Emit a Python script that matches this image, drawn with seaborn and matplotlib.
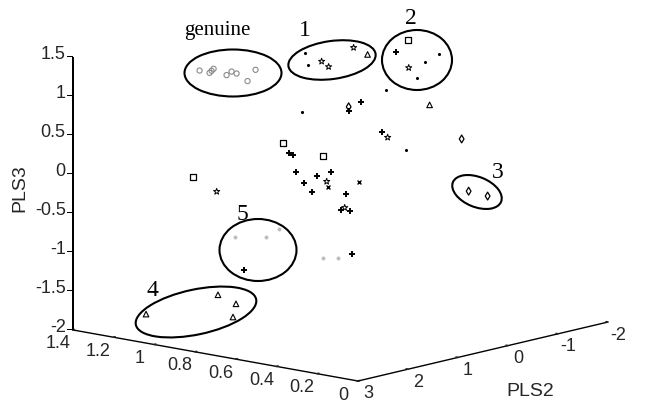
import numpy as np
import pandas as pd
import matplotlib
matplotlib.use("Agg")
import matplotlib.pyplot as plt
import seaborn as sns
from mpl_toolkits.mplot3d import proj3d
from matplotlib.patches import Ellipse, Rectangle

# ---------------- data (PLS1, PLS2, PLS3) ----------------
genuine_pls1 = [0.9, 0.9, 0.9, 0.9, 0.9, 0.9, 0.9, 0.9, 0.9]
genuine_pls2 = [2.50, 2.30, 2.26, 2.22, 1.96, 1.86, 1.76, 1.54, 1.38]
genuine_pls3 = [1.48, 1.42, 1.44, 1.46, 1.34, 1.37, 1.33, 1.20, 1.32]

dot_pls1 = [1.0, 1.0, 0.7, 0.7, 0.7, 0.7, 0.6, 0.6]
dot_pls2 = [-0.01, -0.07, -1.47, -1.19, -1.03, -0.41, 1.68, -0.40]
dot_pls3 = [1.28, 1.11, 1.18, 1.13, 0.94, 0.89, 0.96, 0.17]

star_pls1 = [1.0, 1.0, 1.0, 0.7, 0.6, 0.6, 0.6, 1.0]
star_pls2 = [-0.35, -0.49, -0.99, -0.87, -0.04, 1.18, 0.82, 1.75]
star_pls3 = [1.12, 1.03, 1.20, 1.10, 0.38, 0.00, -0.39, -0.23]

square_pls1 = [0.7, 0.6, 0.6, 1.0]
square_pls2 = [-0.85, 2.06, 1.26, 2.23]
square_pls3 = [1.46, 0.62, 0.34, 0.03]

plus_pls1 = [0.7, 0.6, 0.6, 0.6, 0.6, 0.6, 0.6, 0.6, 0.6, 0.6, 0.6, 0.6, 0.6, 0.6, 0.8, 0.6]
plus_pls2 = [-0.61, 0.74, 0.50, 0.08, 1.94, 1.86, 1.80, 1.38, 1.10, 1.64, 1.48, 0.80, 0.90, 0.72, 2.02, 0.68]
plus_pls3 = [1.34, 0.84, 0.91, 0.47, 0.48, 0.44, 0.22, 0.10, 0.11, 0.05, -0.09, -0.22, -0.41, -0.45, -1.10, -1.00]

diamond_pls1 = [0.6, 0.2, 0.2, 0.2]
diamond_pls2 = [0.74, 0.11, -0.03, -0.41]
diamond_pls3 = [0.89, 0.57, -0.12, -0.24]

triangle_pls1 = [1.0, 0.6, 1.05, 1.05, 1.05, 1.05]
triangle_pls2 = [-1.27, -0.88, 2.96, 1.52, 1.16, 1.22]
triangle_pls3 = [1.07, 0.67, -1.64, -1.61, -1.78, -1.94]

cross_pls1 = [0.6, 0.6]
cross_pls2 = [0.54, 1.16]
cross_pls3 = [-0.10, -0.07]

faint_pls1 = [0.8, 0.8, 0.8, 0.6, 0.6]
faint_pls2 = [2.20, 1.58, 1.32, 1.26, 0.96]
faint_pls3 = [-0.65, -0.74, -0.68, -0.97, -1.01]

x_ticks = [0, 0.2, 0.4, 0.6, 0.8, 1.0, 1.2, 1.4]
x_ticklabels = ["0", "0.2", "0.4", "0.6", "0.8", "1", "1.2", "1.4"]
y_ticks = [-2, -1, 0, 1, 2, 3]
y_ticklabels = ["-2", "-1", "0", "1", "2", "3"]
z_ticks = [-2, -1.5, -1, -0.5, 0, 0.5, 1, 1.5]
z_ticklabels = ["-2", "-1.5", "-1", "-0.5", "0", "0.5", "1", "1.5"]

y_label = "PLS2"
z_label = "PLS3"
annotations = ["genuine", "1", "2", "3", "4", "5"]

# --------------- build a tidy table ---------------
parts = []
for name, a, b, c in [
    ("genuine", genuine_pls1, genuine_pls2, genuine_pls3),
    ("dot", dot_pls1, dot_pls2, dot_pls3),
    ("star", star_pls1, star_pls2, star_pls3),
    ("square", square_pls1, square_pls2, square_pls3),
    ("plus", plus_pls1, plus_pls2, plus_pls3),
    ("diamond", diamond_pls1, diamond_pls2, diamond_pls3),
    ("triangle", triangle_pls1, triangle_pls2, triangle_pls3),
    ("cross", cross_pls1, cross_pls2, cross_pls3),
    ("faint", faint_pls1, faint_pls2, faint_pls3),
]:
    parts.append(pd.DataFrame({"group": name, "PLS1": a, "PLS2": b, "PLS3": c}))
df = pd.concat(parts, ignore_index=True)

styles = {
    "genuine": dict(marker="o", s=14, facecolors="none", edgecolors="#8a8a8a", linewidths=0.8),
    "dot": dict(marker="o", s=5, c="black", linewidths=0),
    "star": dict(marker="*", s=22, facecolors="none", edgecolors="black", linewidths=0.7),
    "square": dict(marker="s", s=18, facecolors="none", edgecolors="black", linewidths=0.9),
    "plus": dict(marker="+", s=24, c="black", linewidths=1.4),
    "diamond": dict(marker="d", s=16, facecolors="none", edgecolors="black", linewidths=0.9),
    "triangle": dict(marker="^", s=16, facecolors="none", edgecolors="black", linewidths=0.8),
    "cross": dict(marker="x", s=8, c="black", linewidths=1.0),
    "faint": dict(marker="o", s=8, c="#bdbdbd", linewidths=0),
}

sns.set_theme(style="white")
plt.rcParams["font.family"] = ["Liberation Sans", "DejaVu Sans"]

W, H = 646, 403
fig = plt.figure(figsize=(W / 100, H / 100), dpi=100)
# oversized axes box so that nothing of the 3-D frame is clipped
pos = [-0.5, 0.5 - W / H, 2.0, 2 * W / H]
ax = fig.add_axes(pos, projection="3d", proj_type="ortho")
ax.patch.set_visible(False)
ax.view_init(elev=11.86, azim=131.06)
zoom = 1.0
aspect = (378, 380, 279)
ax.set_box_aspect(aspect, zoom=zoom)

for g, sub in df.groupby("group", sort=False):
    ax.scatter(sub["PLS1"], sub["PLS2"], sub["PLS3"], depthshade=False, **styles[g])

ax.set_xlim(0, 1.4)
ax.set_ylim(-2, 3)
ax.set_zlim(-2, 1.5)
ax.set_xticks(x_ticks)
ax.set_yticks(y_ticks)
ax.set_zticks(z_ticks)
ax.set_xticklabels([])
ax.set_yticklabels([])
ax.set_zticklabels([])
ax.grid(False)
for axis in (ax.xaxis, ax.yaxis, ax.zaxis):
    axis.set_pane_color((1, 1, 1, 0))
    axis.pane.set_edgecolor((1, 1, 1, 0))
    axis.line.set_color("black")
    axis.line.set_linewidth(1.0)
    axis._axinfo["tick"]["inward_factor"] = 0.0
    axis._axinfo["tick"]["outward_factor"] = 0.08
    axis._axinfo["tick"]["color"] = "black"
# the vertical axis is drawn by hand at the left corner below
ax.zaxis.line.set_visible(False)
ax.zaxis._axinfo["tick"]["outward_factor"] = 0.0
ax.zaxis._axinfo["tick"]["color"] = (1, 1, 1, 0)


def to_px(x, y, z):
    fig.canvas.draw()
    xs, ys, _ = proj3d.proj_transform(np.array([x]), np.array([y]), np.array([z]), ax.get_proj())
    return np.array(ax.transData.transform((xs[0], ys[0])))


# fit the projected box to the target frame
O = to_px(0, 3, -2)
A = to_px(1.4, 3, -2)
target_len = np.hypot(358 - 72.7, 381 - 330)
zoom *= target_len / np.hypot(*(A - O))
ax.set_box_aspect(aspect, zoom=zoom)
for _ in range(2):
    O = to_px(0, 3, -2)
    shift = np.array([358, H - 381]) - O
    pos[0] += shift[0] / W
    pos[1] += shift[1] / H
    ax.set_position(pos)

tr = fig.dpi_scale_trans

# PLS3 axis line at the left corner of the box (thin filled bar, in pixels/100)
zb = to_px(1.4, 3, z_ticks[0])
zt = to_px(1.4, 3, z_ticks[-1])
xl = float(round(zb[0]))
fig.add_artist(Rectangle(((xl - 0.6) / 100, zb[1] / 100), 1.2 / 100, (zt[1] - zb[1]) / 100,
                         transform=tr, facecolor="black", edgecolor="none", zorder=20))

# tick labels placed at the projected tick positions
fs_tick = 13
for v, lab in zip(x_ticks, x_ticklabels):
    p = to_px(v, 3, -2)
    fig.text((p[0] - 15) / W, (p[1] - 14) / H, lab, ha="center", va="center", fontsize=fs_tick)
for v, lab in zip(y_ticks, y_ticklabels):
    p = to_px(0, v, -2)
    fig.text((p[0] + 10) / W, (p[1] - 13) / H, lab, ha="center", va="center", fontsize=fs_tick)
for v, lab in zip(z_ticks, z_ticklabels):
    p = to_px(1.4, 3, v)
    fig.add_artist(Rectangle(((xl - 6) / 100, (p[1] - 0.5) / 100), 6 / 100, 1 / 100,
                             transform=tr, facecolor="black", edgecolor="none", zorder=20))
    fig.text((p[0] - 7) / W, (p[1] + 2) / H, lab, ha="right", va="center", fontsize=fs_tick)

# axis titles
fig.text(530 / W, 1 - 392 / H, y_label, ha="center", va="center", fontsize=14)
fig.text(20 / W, 1 - 188 / H, z_label, ha="center", va="center", fontsize=14, rotation=90)

# annotations (ellipses + labels), pixel positions in image coordinates
ell = [
    (233, 73, 97, 47, 0),
    (332, 60, 88, 38, 8),
    (417, 60, 70, 60, 0),
    (477, 192, 52, 30, -22),
    (196, 312, 123, 45, 12),
    (258, 250, 77, 62, 0),
]
for cx, cy, w, h, ang in ell:
    fig.add_artist(Ellipse((cx / 100, (H - cy) / 100), w / 100, h / 100, angle=ang,
                           transform=tr, fill=False, edgecolor="black", linewidth=1.5))
txt_pos = [(217, 31), (305, 30), (411, 18), (498, 172), (152, 291), (242, 214)]
for s, (tx, ty) in zip(annotations, txt_pos):
    fig.text(tx / W, 1 - ty / H, s, ha="center", va="center",
             family="Liberation Serif", fontsize=15 if s == "genuine" else 17, color="black")

fig.savefig("out.png", dpi=100)
